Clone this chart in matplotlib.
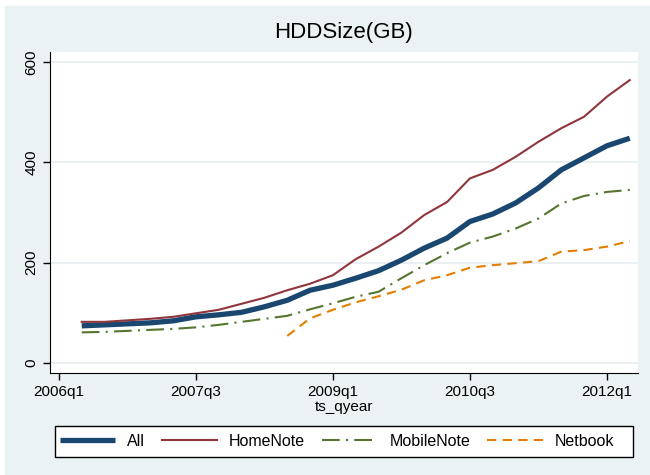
import numpy as np
import matplotlib.pyplot as plt
from matplotlib.patches import Rectangle

plt.rcParams['font.family'] = ['Liberation Sans', 'DejaVu Sans']

# quarters counted from 2006q1 (=0)
quarter = np.arange(1, 26)
tick_pos = [0, 6, 12, 18, 24]
tick_labels = ["2006q1", "2007q3", "2009q1", "2010q3", "2012q1"]

all_gb = [74, 76, 78, 80, 84, 92, 96, 101, 112, 125, 145, 155, 169, 184, 205,
          229, 249, 282, 297, 319, 349, 385, 409, 433, 448]
homenote = [82, 82, 85, 88, 92, 99, 106, 118, 130, 145, 158, 175, 207, 232, 260,
            295, 321, 368, 385, 411, 441, 468, 491, 531, 564]
mobilenote = [61, 62, 64, 66, 68, 71, 76, 82, 88, 94, 107, 119, 132, 142, 169,
              195, 219, 240, 252, 268, 288, 318, 333, 341, 345]
netbook = [np.nan] * 9 + [54, 89, 106, 121, 133, 146, 165, 175, 190, 195, 199,
                          203, 222, 225, 232, 243]

bg = "#EAF2F3"
fig = plt.figure(figsize=(6.5, 4.75), dpi=100)
fig.patches.append(Rectangle((5 / 650, 0), 645 / 650, 469 / 475,
                             transform=fig.transFigure, color=bg, zorder=-10))
# legend frame
fig.patches.append(Rectangle((55 / 650, 18 / 475), 578 / 650, 31 / 475,
                             transform=fig.transFigure, facecolor="white",
                             edgecolor="black", lw=1, zorder=-5))

ax = fig.add_axes([50 / 650, 102 / 475, 588 / 650, 321 / 475])
ax.set_facecolor("white")

ax.plot(quarter, all_gb, color="#1A476F", lw=3.8, label="All", solid_capstyle="butt")
ax.plot(quarter, homenote, color="#90353B", lw=1.5, label="HomeNote")
ax.plot(quarter, mobilenote, color="#55752F", lw=1.5, dashes=(8.5, 3, 1, 3),
        label="MobileNote")
ax.plot(quarter, netbook, color="#E37E00", lw=1.5, dashes=(4.5, 3), label="Netbook")

ax.set_xlim(-0.39, 25.36)
ax.set_ylim(-20, 620)
ax.set_yticks([0, 200, 400, 600])
ax.set_xticks(tick_pos)
ax.set_xticklabels(tick_labels)
ax.grid(axis="y", color="#E6EEF0", lw=1.2)
ax.set_axisbelow(True)
for s in ["top", "right"]:
    ax.spines[s].set_visible(False)
ax.tick_params(labelsize=11, length=5, width=1, colors="black")
for lab in ax.get_yticklabels():
    lab.set_rotation(90)
    lab.set_va("center")
ax.set_xlabel("ts_qyear", fontsize=11, labelpad=1)
ax.set_title("HDDSize(GB)", fontsize=16, pad=10)

h, l = ax.get_legend_handles_labels()
leg = fig.legend(h, l, ncol=4, loc="center left",
                 bbox_to_anchor=(60 / 650, 33.5 / 475),
                 fontsize=11.5, handlelength=3.45, frameon=False,
                 borderaxespad=0, borderpad=0, handletextpad=0.75,
                 columnspacing=1.07)

fig.savefig("out.png", dpi=100)
